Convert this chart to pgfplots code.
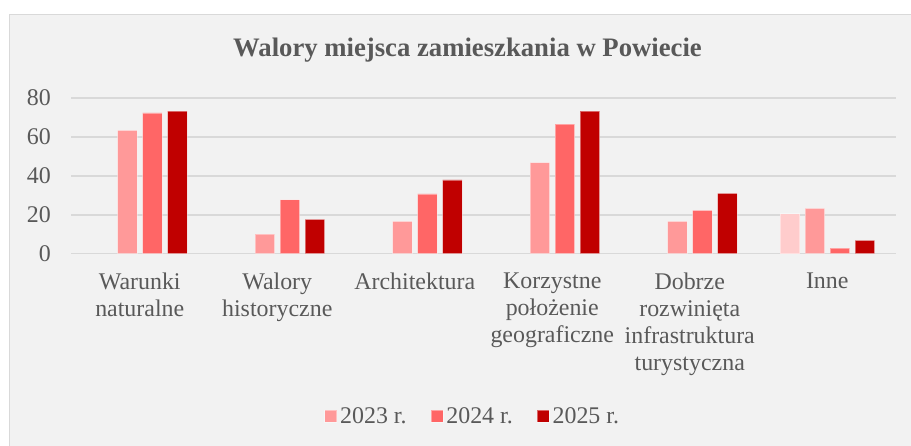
\documentclass[border=0pt]{standalone}
\usepackage{fontspec}
\setmainfont{Liberation Serif}
\usepackage{pgfplots}
\pgfplotsset{compat=1.18}
\definecolor{c0}{HTML}{FFCCCC}
\definecolor{c1}{HTML}{FF9999}
\definecolor{c2}{HTML}{FF6666}
\definecolor{c3}{HTML}{C00000}
\definecolor{bgc}{HTML}{F2F2F2}
\definecolor{frame}{HTML}{D9D9D9}
\definecolor{gridc}{HTML}{D9D9D9}
\definecolor{txt}{HTML}{595959}
\begin{document}
\begin{tikzpicture}
\useasboundingbox (0bp,0bp) rectangle (911bp,446bp);
\fill[white] (0bp,0bp) rectangle (911bp,446bp);
\begin{scope}
\clip (0bp,0bp) rectangle (911bp,446bp);
\filldraw[fill=bgc, draw=frame, line width=1.5bp] (9.5bp,-5bp) rectangle (920bp,431.5bp);
\end{scope}
\node[anchor=base, font=\bfseries\fontsize{26.8}{30}\selectfont, text=txt, inner sep=0pt] at (467.5bp,389bp) {Walory miejsca zamieszkania w Powiecie};
\begin{axis}[
  at={(71bp,192.3bp)}, anchor=south west,
  width=825bp, height=155.7bp, scale only axis,
  xmin=-0.5, xmax=5.5, ymin=0, ymax=80,
  ybar, bar width=19.5bp,
  ytick={0,20,40,60,80},
  xtick={0,1,2,3,4,5},
  xticklabels={{Warunki\\naturalne},{Walory\\historyczne},{Architektura},{Korzystne\\położenie\\geograficzne},{Dobrze\\rozwinięta\\infrastruktura\\turystyczna},{Inne}},
  xticklabel style={align=center, anchor=north, inner sep=0pt, yshift=-18.9bp, font=\fontsize{24}{27.3}\selectfont, text=txt},
  yticklabel style={anchor=east, inner sep=0pt, xshift=-20bp, font=\fontsize{24}{27.3}\selectfont, text=txt},
  /pgf/number format/assume math mode=true,
  major tick length=0pt,
  axis line style={draw=none},
  ymajorgrids, grid style={draw=gridc, line width=1.5bp},
  clip=false,
  legend columns=-1,
  legend style={at={(0.4875,-1.042)}, anchor=center, draw=none, fill=none, inner sep=0pt,
    font=\fontsize{24}{27.3}\selectfont, text=txt,
    /tikz/every even column/.append style={column sep=21bp},
    nodes={inner xsep=3bp, inner ysep=0pt}},
  legend image code/.code={\fill[#1] (0bp,-6bp) rectangle (12bp,6bp);},
]
\addplot[fill=c0, draw=white, draw opacity=0.4, line width=0.8bp, bar shift=-37.5bp, forget plot] coordinates {(5,20.5)};
\addplot[fill=c1, draw=white, draw opacity=0.4, line width=0.8bp, bar shift=-12.5bp] coordinates {(0,63.4) (1,10.1) (2,16.6) (3,46.8) (4,16.6) (5,23.3)};
\addplot[fill=c2, draw=white, draw opacity=0.4, line width=0.8bp, bar shift=12.5bp] coordinates {(0,72.3) (1,27.7) (2,30.7) (3,66.6) (4,22.3) (5,2.9)};
\addplot[fill=c3, draw=white, draw opacity=0.4, line width=0.8bp, bar shift=37.5bp] coordinates {(0,73.3) (1,17.7) (2,37.9) (3,73.3) (4,31.0) (5,6.9)};
\legend{2023 r.,2024 r.,2025 r.}
\end{axis}
\end{tikzpicture}
\end{document}
